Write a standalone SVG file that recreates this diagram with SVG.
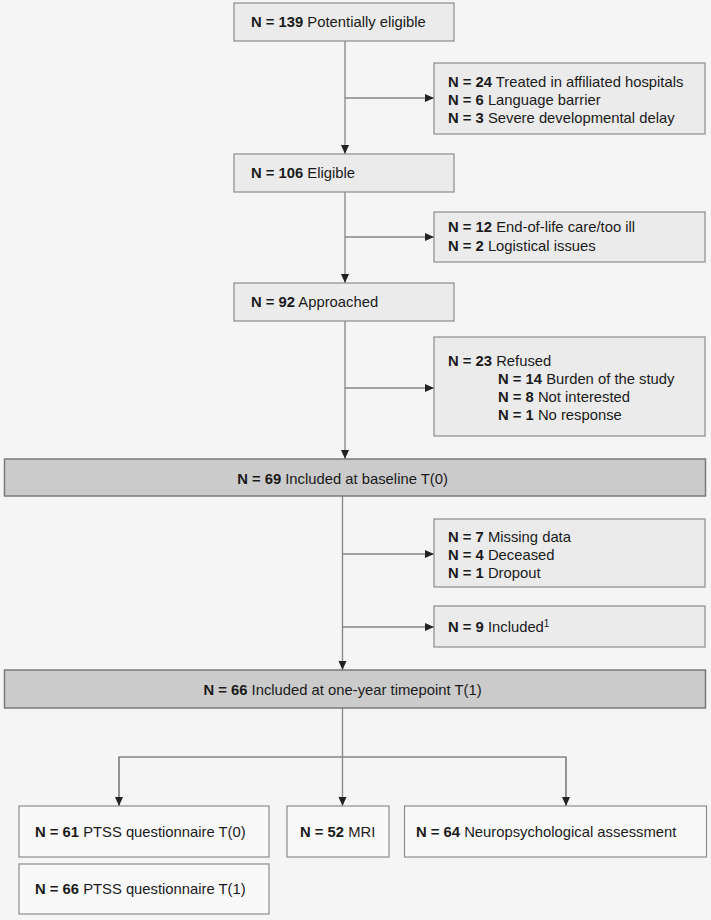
<svg xmlns="http://www.w3.org/2000/svg" width="711" height="920" viewBox="0 0 711 920">
<defs>
<style>
text{font-family:"Liberation Sans",Arial,Helvetica,sans-serif;font-size:14.8px;fill:#1a1a1a}
.b{font-weight:bold}
.sup{font-size:10px;fill:#1a1a1a}
.light{fill:#ebebeb;stroke:#8c8c8c;stroke-width:1.2}
.dark{fill:#cbcbcb;stroke:#7a7a7a;stroke-width:1.5}
.white{fill:#f9f9f9;stroke:#8c8c8c;stroke-width:1.2}
.ln{stroke:#858585;stroke-width:1.3;fill:none}
</style>
<marker id="ah" markerUnits="userSpaceOnUse" markerWidth="10" markerHeight="10" viewBox="0 0 10 10" refX="10" refY="5" orient="auto">
<path d="M1,1 L10,5 L1,9 Z" fill="#222"/>
</marker>
</defs>
<rect width="711" height="920" fill="#f5f5f5"/>

<g id="connectors">
<line class="ln" x1="345" y1="41" x2="345" y2="154" marker-end="url(#ah)"/>
<line class="ln" x1="345" y1="98" x2="434" y2="98" marker-end="url(#ah)"/>
<line class="ln" x1="345" y1="192" x2="345" y2="283" marker-end="url(#ah)"/>
<line class="ln" x1="345" y1="237" x2="434" y2="237" marker-end="url(#ah)"/>
<line class="ln" x1="345" y1="321" x2="345" y2="459" marker-end="url(#ah)"/>
<line class="ln" x1="345" y1="388" x2="434" y2="388" marker-end="url(#ah)"/>
<line class="ln" x1="342.5" y1="496" x2="342.5" y2="670" marker-end="url(#ah)"/>
<line class="ln" x1="342.5" y1="554" x2="434" y2="554" marker-end="url(#ah)"/>
<line class="ln" x1="342.5" y1="627" x2="434" y2="627" marker-end="url(#ah)"/>
<line class="ln" x1="342.5" y1="708" x2="342.5" y2="806" marker-end="url(#ah)"/>
<polyline class="ln" points="119,806 119,757 566,757 566,806"/>
<line class="ln" x1="119" y1="757" x2="119" y2="806" marker-end="url(#ah)"/>
<line class="ln" x1="566" y1="757" x2="566" y2="806" marker-end="url(#ah)"/>
</g>

<g id="n139">
<rect class="light" x="234" y="3" width="220" height="38"/>
<text x="251" y="27"><tspan class="b">N = 139</tspan> Potentially eligible</text>
</g>
<g id="excl1">
<rect class="light" x="434" y="63" width="271" height="71"/>
<text x="448" y="87"><tspan class="b">N = 24</tspan> Treated in affiliated hospitals</text>
<text x="448" y="105"><tspan class="b">N = 6</tspan> Language barrier</text>
<text x="448" y="122.5"><tspan class="b">N = 3</tspan> Severe developmental delay</text>
</g>
<g id="n106">
<rect class="light" x="234" y="154" width="220" height="38"/>
<text x="251" y="178"><tspan class="b">N = 106</tspan> Eligible</text>
</g>
<g id="excl2">
<rect class="light" x="434" y="212" width="271" height="50"/>
<text x="448" y="232"><tspan class="b">N = 12</tspan> End-of-life care/too ill</text>
<text x="448" y="251"><tspan class="b">N = 2</tspan> Logistical issues</text>
</g>
<g id="n92">
<rect class="light" x="234" y="283" width="220" height="38"/>
<text x="251" y="307"><tspan class="b">N = 92</tspan> Approached</text>
</g>
<g id="excl3">
<rect class="light" x="434" y="337" width="271" height="99"/>
<text x="448" y="366"><tspan class="b">N = 23</tspan> Refused</text>
<text x="498" y="384"><tspan class="b">N = 14</tspan> Burden of the study</text>
<text x="498" y="402"><tspan class="b">N = 8</tspan> Not interested</text>
<text x="498" y="419.5"><tspan class="b">N = 1</tspan> No response</text>
</g>
<g id="n69">
<rect class="dark" x="4.5" y="459" width="701" height="37"/>
<text x="342.5" y="483.5" text-anchor="middle"><tspan class="b">N = 69</tspan> Included at baseline T(0)</text>
</g>
<g id="excl4">
<rect class="light" x="434" y="519" width="271" height="68"/>
<text x="448" y="542"><tspan class="b">N = 7</tspan> Missing data</text>
<text x="448" y="560"><tspan class="b">N = 4</tspan> Deceased</text>
<text x="448" y="577.5"><tspan class="b">N = 1</tspan> Dropout</text>
</g>
<g id="excl5">
<rect class="light" x="434" y="606" width="271" height="41"/>
<text x="448" y="632"><tspan class="b">N = 9</tspan> Included<tspan class="sup" dy="-5">1</tspan></text>
</g>
<g id="n66">
<rect class="dark" x="4.5" y="670" width="701" height="38"/>
<text x="342.5" y="694.5" text-anchor="middle"><tspan class="b">N = 66</tspan> Included at one-year timepoint T(1)</text>
</g>
<g id="ptss0">
<rect class="white" x="19" y="806" width="250" height="51"/>
<text x="35" y="837"><tspan class="b">N = 61</tspan> PTSS questionnaire T(0)</text>
</g>
<g id="mri">
<rect class="white" x="287" y="806" width="102" height="51"/>
<text x="300" y="837"><tspan class="b">N = 52</tspan> MRI</text>
</g>
<g id="neuro">
<rect class="white" x="404.5" y="806" width="302" height="51"/>
<text x="416" y="837"><tspan class="b">N = 64</tspan> Neuropsychological assessment</text>
</g>
<g id="ptss1">
<rect class="white" x="19" y="864" width="250" height="50"/>
<text x="35" y="894"><tspan class="b">N = 66</tspan> PTSS questionnaire T(1)</text>
</g>
</svg>
